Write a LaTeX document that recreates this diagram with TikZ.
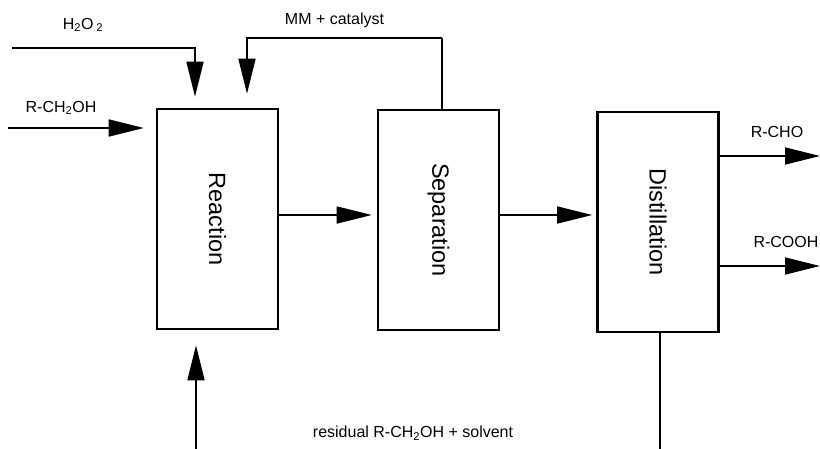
\documentclass[tikz,border=0pt]{standalone}
\usepackage{fontspec}
\setmainfont{Liberation Sans}
\usetikzlibrary{arrows.meta,calc}
\tikzset{
  unit/.style={draw, line width=2.6pt, minimum width=121pt, minimum height=220pt, inner sep=0pt, font=\fontsize{23.5}{28}\selectfont},
  flow/.style={line width=1.6pt, -{Triangle[length=35pt,width=17pt]}},
  pipe/.style={line width=1.6pt},
  lbl/.style={inner sep=0pt, font=\fontsize{16}{19}\selectfont}
}

\begin{document}
\begin{tikzpicture}[x=1pt,y=-1pt]
\useasboundingbox (0,0) rectangle (820,449);

%Shape: Rectangle [Reaction]
\node[unit] (reac) at (217.5,219) {\rotatebox{-90}{Reaction}};
%Shape: Rectangle [Separation]
\node[unit] (sep) at (438.5,220) {\rotatebox{-90}{Separation}};
%Shape: Rectangle [Distillation]
\node[unit] (dist) at (658,222) {\rotatebox{-90}{Distillation}};

%Free ends
\coordinate (h2o2in) at (12,48);
\coordinate (alcin) at (8,128);
\coordinate (mmtop) at (442,38);
\coordinate (choout) at (820,156);
\coordinate (coohout) at (820,266);
\coordinate (botright) at (660,451);
\coordinate (botleft) at (196,451);

%Feed lines
\draw[flow, shorten >=11pt] (h2o2in) -| ([xshift=-22.5pt]reac.north);
\draw[flow, shorten >=12pt] (alcin) -- (alcin -| reac.west);
%Recycle of MM + catalyst
\draw[pipe] ([xshift=3.5pt]sep.north) -- (mmtop);
\draw[flow, shorten >=14pt] (mmtop) -| ([xshift=29.5pt]reac.north);

%Between units
\draw[flow, shorten >=5pt] ([yshift=4pt]reac.east) -- ([yshift=4pt]reac.east -| sep.west);
\draw[flow, shorten >=4pt] ([yshift=5pt]sep.east) -- ([yshift=5pt]sep.east -| dist.west);

%Products
\draw[flow] (choout -| dist.east) -- (choout);
\draw[flow] (coohout -| dist.east) -- (coohout);

%Residual recycle (runs below the lower edge)
\draw[pipe] ([xshift=2pt]dist.south) -- (botright) -- (botleft);
\draw[flow, shorten >=15pt] (botleft) -- (botleft |- reac.south);

% Text Node
\node[lbl] (lh2o2) at (83,25) {H\textsubscript{2}O\,\textsubscript{2}};
% Text Node
\node[lbl] (lalc) at (61,108) {R-CH\textsubscript{2}OH};
% Text Node
\node[lbl] (lmm) at (334.5,20) {MM + catalyst};
% Text Node
\node[lbl] (lcho) at (777,132) {R-CHO};
% Text Node
\node[lbl] (lcooh) at (786,242) {R-COOH};
% Text Node
\node[lbl] (lres) at (413,433) {residual R-CH\textsubscript{2}OH + solvent};

\end{tikzpicture}
\end{document}
